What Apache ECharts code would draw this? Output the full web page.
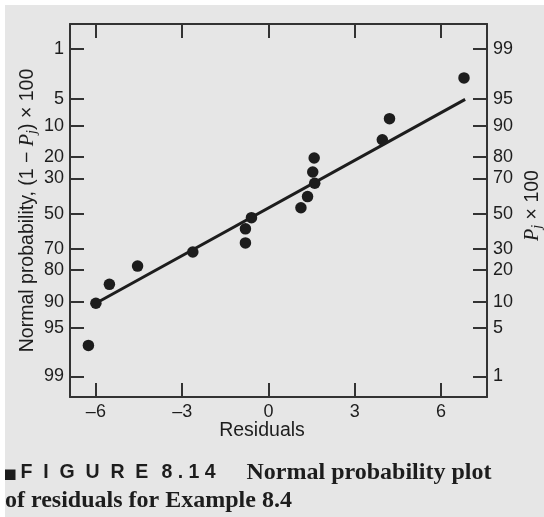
<!DOCTYPE html>
<html>
<head>
<meta charset="utf-8">
<script src="https://cdn.jsdelivr.net/npm/echarts@6/dist/echarts.min.js"></script>
<style>
  html, body { margin: 0; padding: 0; background: #fff; }
  #chart { width: 544px; height: 517px; }
</style>
</head>
<body>
<div id="chart"></div>
<script>
// residuals (x) and their normal scores (y, in probit units)
const residuals = [-6.26, -6.00, -5.53, -4.55, -2.63, -0.80, -0.80, -0.59, 1.13, 1.36, 1.61, 1.54, 1.59, 3.96, 4.21, 6.80];
const normalScores = [-1.89, -1.29, -1.02, -0.76, -0.56, -0.43, -0.23, -0.07, 0.07, 0.23, 0.42, 0.58, 0.78, 1.04, 1.34, 1.92];

// straight line drawn through the points
const fitX = [-6.0, 6.84];
const fitY = [-1.29, 1.615];

// axis ticks
const xTicks = [-6, -3, 0, 3, 6];
const xTickLabels = ['\u20136', '\u20133', '0', '3', '6'];
const yTickPos = [2.33, 1.62, 1.235, 0.80, 0.49, -0.02, -0.52, -0.815, -1.27, -1.645, -2.33];
const leftLabels = ['1', '5', '10', '20', '30', '50', '70', '80', '90', '95', '99'];
const rightLabels = ['99', '95', '90', '80', '70', '50', '30', '20', '10', '5', '1'];

const ink = '#1d1d1d';
const axisColor = '#333';
const sans = 'Liberation Sans, Arial, sans-serif';
const serif = 'Liberation Serif, Times New Roman, serif';

function tickLabel(list, ticks) {
  return function (v) {
    const i = ticks.findIndex(t => Math.abs(t - v) < 1e-6);
    return i >= 0 ? list[i] : '';
  };
}

const chart = echarts.init(document.getElementById('chart'));

const baseX = {
  type: 'value',
  min: -6.9,
  max: 7.6,
  splitLine: { show: false },
  axisLine: { onZero: false, lineStyle: { color: axisColor, width: 2 } },
  axisTick: { inside: true, length: 14, customValues: xTicks, lineStyle: { color: axisColor, width: 2 } }
};
const baseY = {
  type: 'value',
  min: -2.625,
  max: 2.688,
  splitLine: { show: false },
  axisLine: { onZero: false, lineStyle: { color: axisColor, width: 2 } },
  axisTick: { inside: true, length: 14, customValues: yTickPos, lineStyle: { color: axisColor, width: 2 } }
};

const nameRich = {
  i: { fontFamily: serif, fontStyle: 'italic', fontSize: 20, color: ink, lineHeight: 22 },
  s: { fontFamily: serif, fontStyle: 'italic', fontSize: 14, color: ink, lineHeight: 12, verticalAlign: 'bottom' }
};
const labelStyle = { fontFamily: sans, fontSize: 18, color: ink };

const option = {
  backgroundColor: '#fff',
  animation: false,
  grid: { left: 70, top: 24, right: 57, bottom: 120, outerBoundsMode: 'none', containLabel: false },
  xAxis: [
    Object.assign({}, baseX, {
      position: 'bottom',
      name: 'Residuals',
      nameLocation: 'middle',
      nameGap: 24,
      nameMoveOverlap: false,
      nameTextStyle: { fontFamily: sans, fontSize: 19.5, color: ink, padding: [0, 33, 0, 0] },
      axisLabel: Object.assign({ customValues: xTicks, margin: 6, formatter: tickLabel(xTickLabels, xTicks) }, labelStyle)
    }),
    Object.assign({}, baseX, {
      position: 'top',
      axisLabel: { show: false }
    })
  ],
  yAxis: [
    Object.assign({}, baseY, {
      position: 'left',
      name: 'Normal probability, (1 \u2212 {i|P}{s|j}) \u00d7 100',
      nameLocation: 'middle',
      nameRotate: 90,
      nameGap: 31,
      nameMoveOverlap: false,
      nameTextStyle: { fontFamily: sans, fontSize: 19.5, color: ink, lineHeight: 22, rich: nameRich },
      axisLabel: Object.assign({ customValues: yTickPos, margin: 6, formatter: tickLabel(leftLabels, yTickPos) }, labelStyle)
    }),
    Object.assign({}, baseY, {
      position: 'right',
      name: '{i|P}{s|j} \u00d7 100',
      nameLocation: 'middle',
      nameRotate: 90,
      nameGap: 35,
      nameMoveOverlap: false,
      nameTextStyle: { fontFamily: sans, fontSize: 19.5, color: ink, lineHeight: 22, rich: nameRich, padding: [0, 0, 0, 10] },
      axisLabel: Object.assign({ customValues: yTickPos, margin: 6, formatter: tickLabel(rightLabels, yTickPos) }, labelStyle)
    })
  ],
  series: [
    {
      type: 'line',
      data: fitX.map((x, i) => [x, fitY[i]]),
      symbol: 'none',
      lineStyle: { color: ink, width: 3 },
      z: 2
    },
    {
      type: 'scatter',
      data: residuals.map((r, i) => [r, normalScores[i]]),
      symbol: 'circle',
      symbolSize: 11.5,
      itemStyle: { color: ink, opacity: 1 },
      z: 3
    }
  ],
  graphic: [
    { type: 'rect', z: -100, silent: true, shape: { x: 5, y: 5, width: 539, height: 512 }, style: { fill: '#e6e6e6' } },
    { type: 'rect', shape: { x: 5, y: 469.5, width: 10.5, height: 10.5 }, style: { fill: ink } },
    { type: 'text', x: 20.5, y: 473, style: { text: 'F  I  G  U  R  E', font: 'bold 19.5px ' + sans, fill: ink, verticalAlign: 'middle' } },
    { type: 'text', x: 161.5, y: 473, style: { text: '8 . 1 4', font: 'bold 19.5px ' + sans, fill: ink, verticalAlign: 'middle' } },
    { type: 'text', x: 246.5, y: 473, style: { text: 'Normal probability plot', font: 'bold 24px ' + serif, fill: ink, verticalAlign: 'middle' } },
    { type: 'text', x: 5, y: 501, style: { text: 'of residuals for Example 8.4', font: 'bold 24px ' + serif, fill: ink, verticalAlign: 'middle' } }
  ]
};

chart.setOption(option);
</script>
</body>
</html>
